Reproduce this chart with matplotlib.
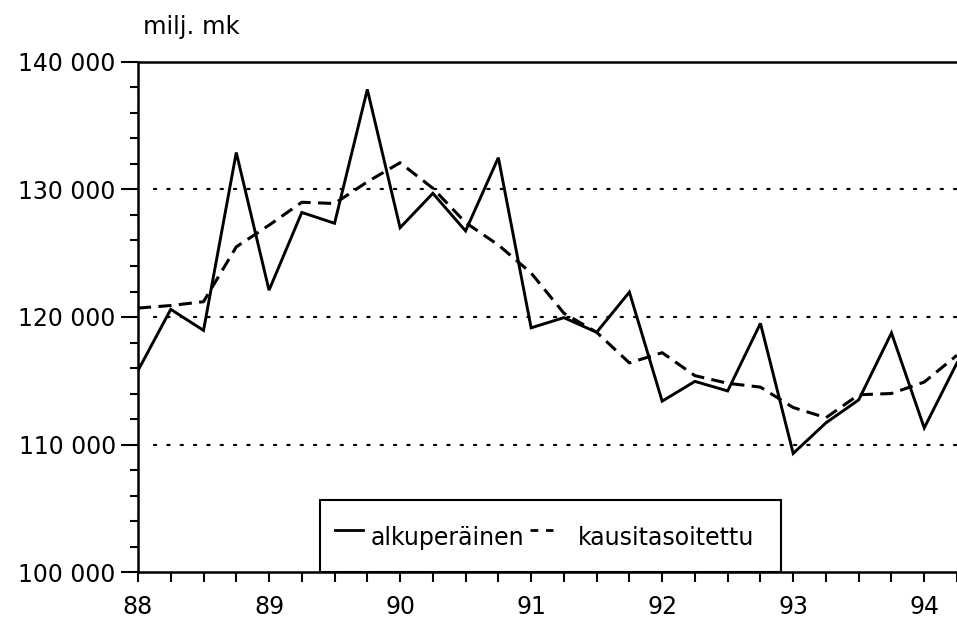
import matplotlib
matplotlib.use("Agg")
import matplotlib.pyplot as plt
from matplotlib.patches import Rectangle
import numpy as np

# Quarterly time axis (year as decimal, 88 = 1988)
quarters = [88.0, 88.25, 88.5, 88.75, 89.0, 89.25, 89.5, 89.75,
            90.0, 90.25, 90.5, 90.75, 91.0, 91.25, 91.5, 91.75,
            92.0, 92.25, 92.5, 92.75, 93.0, 93.25, 93.5, 93.75,
            94.0, 94.25]

alkuperainen = [115800, 120600, 118950, 132900, 122100, 128200, 127350, 137850,
                127000, 129700, 126750, 132500, 119150, 119950, 118800, 121950,
                113400, 114950, 114200, 119500, 109300, 111700, 113500, 118750,
                111300, 116400]

kausitasoitettu = [120700, 120900, 121200, 125500, 127200, 129000, 128900, 130600,
                   132100, 130100, 127400, 125650, 123450, 120300, 118800, 116400,
                   117200, 115400, 114800, 114500, 112900, 112100, 113900, 114000,
                   114900, 117000]

year_ticks = [88, 89, 90, 91, 92, 93, 94]
y_ticks = [100000, 110000, 120000, 130000, 140000]
y_ticklabels = ["100 000", "110 000", "120 000", "130 000", "140 000"]
grid_values = [110000, 120000, 130000]

legend_labels = ["alkuperäinen", "kausitasoitettu"]

plt.rcParams['font.family'] = ['DejaVu Sans']

fig = plt.figure(figsize=(9.57, 6.2), dpi=100)
W, H = 957, 620
left, right, top, bottom = 138, 957, 62, 572
ax = fig.add_axes([left / W, (H - bottom) / H, (right - left) / W, (bottom - top) / H])

ax.set_xlim(88, 88 + (right - left) / 131.7)
ax.set_ylim(100000, 140000)

for g in grid_values:
    ax.plot([88.12, 94.3], [g, g], color='black', lw=1.6,
            linestyle=(0, (1, 5.0)), dash_capstyle='round', zorder=1, clip_on=True)

ax.plot(quarters, alkuperainen, color='black', lw=2.1, solid_joinstyle='miter', zorder=3)
ax.plot(quarters, kausitasoitettu, color='black', lw=2.2, linestyle=(0, (4.3, 2.4)), zorder=3)

ax.set_xticks(year_ticks)
ax.set_xticklabels([str(y) for y in year_ticks])
ax.set_xticks(np.arange(88, 94.5, 0.25), minor=True)
ax.set_yticks(y_ticks)
ax.set_yticklabels(y_ticklabels)
ax.set_yticks(np.arange(100000, 140001, 2000), minor=True)

ax.tick_params(axis='x', which='both', direction='out', length=7.5, width=1.5,
               labelsize=17, pad=9)
ax.tick_params(axis='y', which='major', direction='out', length=12, width=1.5,
               labelsize=17, pad=4)
ax.tick_params(axis='y', which='minor', direction='out', length=6, width=1.5)

for s in ['left', 'top', 'bottom']:
    ax.spines[s].set_linewidth(1.8)
ax.spines['right'].set_visible(False)

fig.text(143 / W, 1 - 27 / H, "milj. mk", fontsize=17.5, ha='left', va='center')

# Legend box (drawn in figure pixel coordinates converted to fractions)
def fx(px):
    return px / W

def fy(py):
    return 1 - py / H

fig.add_artist(Rectangle((fx(320), fy(572)), fx(781) - fx(320), fy(500) - fy(572),
                         transform=fig.transFigure, facecolor='white',
                         edgecolor='black', lw=1.5, zorder=4))
hy = fy(530)
ty = fy(538)
fig.add_artist(plt.Line2D([fx(335), fx(363)], [hy, hy], transform=fig.transFigure,
                          color='black', lw=2.0, zorder=5))
fig.text(fx(371), ty, legend_labels[0], fontsize=17, ha='left', va='center', zorder=5)
fig.add_artist(plt.Line2D([fx(530), fx(553)], [hy, hy], transform=fig.transFigure,
                          color='black', lw=2.0, linestyle=(0, (2.8, 2.8)), zorder=5))
fig.text(fx(666), ty, legend_labels[1], fontsize=17, ha='center', va='center', zorder=5)

fig.savefig("out.png", dpi=100)
